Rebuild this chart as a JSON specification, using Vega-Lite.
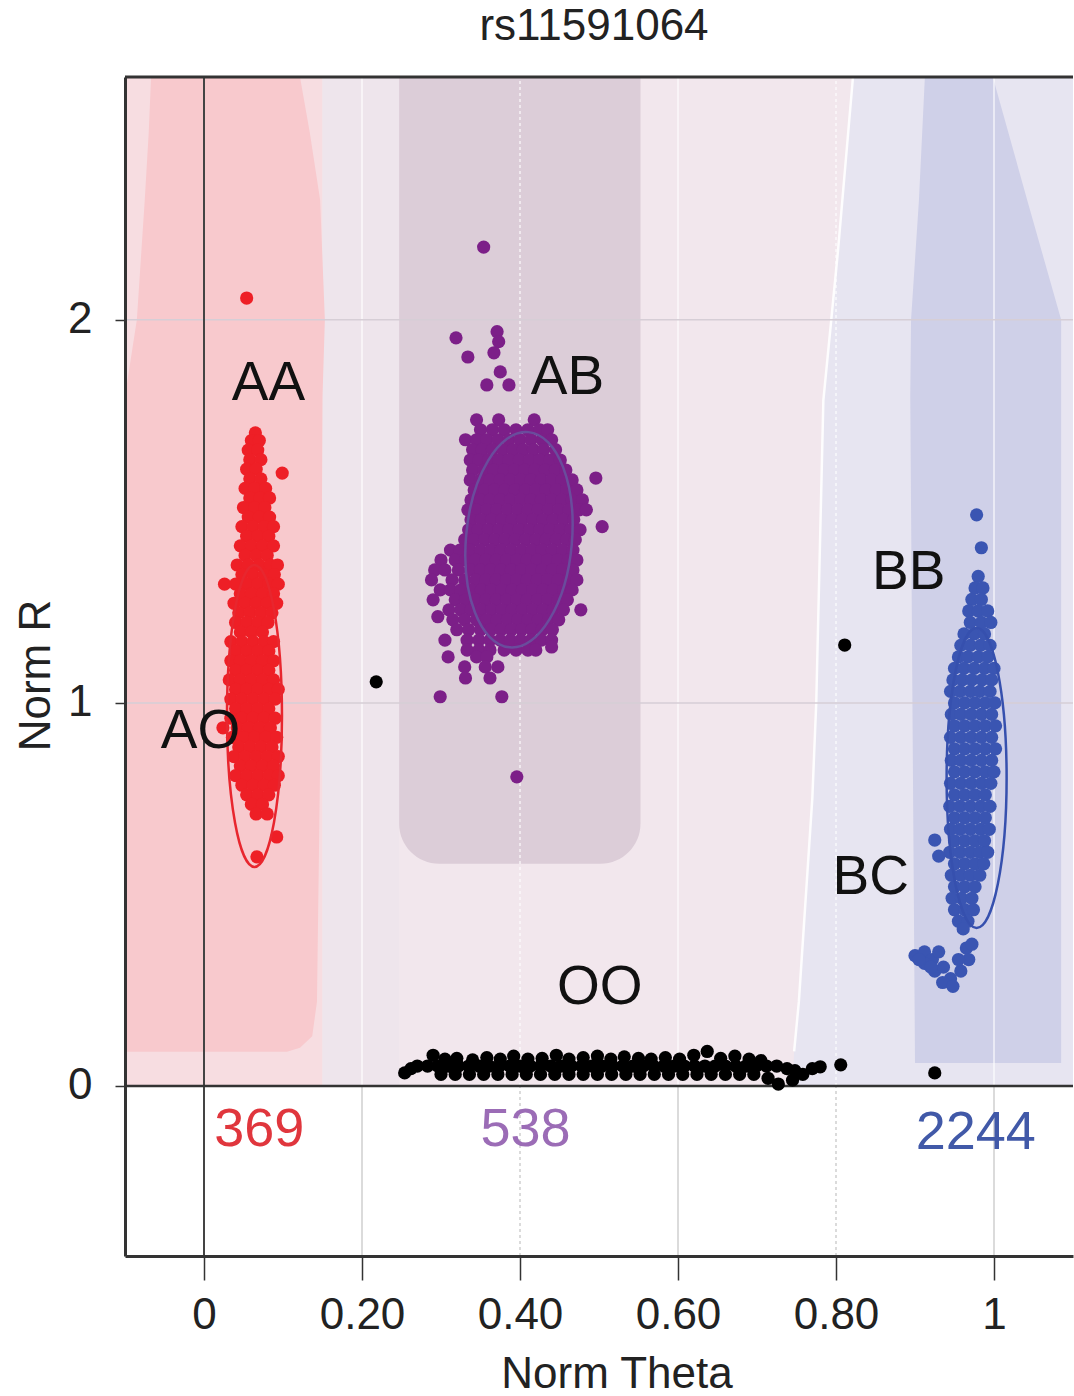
{
"$schema": "https://vega.github.io/schema/vega-lite/v6.json",
"width": 948, "height": 1179,
"autosize": {"type": "none"},
"padding": {"left": 125, "top": 77, "right": 1, "bottom": 140},
"background": "white",
"config": {"view": {"stroke": null}, "font": "Liberation Sans"},
"title": {"text": "rs11591064", "fontSize": 44, "font": "Liberation Sans", "fontWeight": "normal", "color": "#222", "anchor": "middle", "frame": "group", "dx": -5, "dy": 42, "offset": 30, "baseline": "alphabetic"},
"resolve": {"scale": {"color": "independent"}},
"datasets": {
"bg": [
{"z":"base","x1":-0.1,"x2":1.1,"y1":0,"y2":2.634},
{"z":"pinkL","x1":-0.1,"x2":0.15,"y1":0,"y2":2.634},
{"z":"lavL","x1":0.15,"x2":0.247,"y1":0,"y2":2.634},
{"z":"ab","x1":0.247,"x2":0.5525,"y1":0.58,"y2":2.634}
],
"zones": [
{"z":"pinkAA","r":0.089,"lo":-0.1,"hi":0.105},
{"z":"pinkAA","r":0.10,"lo":-0.1,"hi":0.1215},
{"z":"pinkAA","r":0.13,"lo":-0.1,"hi":0.137},
{"z":"pinkAA","r":0.22,"lo":-0.1,"hi":0.143},
{"z":"pinkAA","r":1.0,"lo":-0.1,"hi":0.148},
{"z":"pinkAA","r":1.8,"lo":-0.1,"hi":0.15},
{"z":"pinkAA","r":2.0,"lo":-0.085,"hi":0.153},
{"z":"pinkAA","r":2.313,"lo":-0.075,"hi":0.147},
{"z":"pinkAA","r":2.488,"lo":-0.07,"hi":0.134},
{"z":"pinkAA","r":2.634,"lo":-0.067,"hi":0.1215},
{"z":"lavR","r":0,"lo":0.745,"hi":1.1},
{"z":"lavR","r":0.09,"lo":0.747,"hi":1.1},
{"z":"lavR","r":0.22,"lo":0.753,"hi":1.1},
{"z":"lavR","r":0.75,"lo":0.77,"hi":1.1},
{"z":"lavR","r":1.0,"lo":0.775,"hi":1.1},
{"z":"lavR","r":1.79,"lo":0.784,"hi":1.1},
{"z":"lavR","r":2.0,"lo":0.794,"hi":1.1},
{"z":"lavR","r":2.18,"lo":0.8025,"hi":1.1},
{"z":"lavR","r":2.634,"lo":0.8215,"hi":1.1},
{"z":"blue","r":0.06,"lo":0.90,"hi":1.085},
{"z":"blue","r":1.8,"lo":0.894,"hi":1.085},
{"z":"blue","r":2.0,"lo":0.895,"hi":1.085},
{"z":"blue","r":2.313,"lo":0.905,"hi":1.042},
{"z":"blue","r":2.634,"lo":0.9125,"hi":0.9985}
],
"vgrid": [{"t":0.2},{"t":0.4},{"t":0.6},{"t":0.8},{"t":1.0}],
"hgrid": [{"r":1},{"r":2}],
"zero": [{"t":0,"r":0}],
"frame": [{"r":2.634}],
"ell": [{"g":"AA","t":0.0639,"r":0.966},{"g":"AB","t":0.3987,"r":1.426},{"g":"BB","t":0.978,"r":0.804}],
"lab": [
{"k":"AA","t":0.0816,"r":1.834},{"k":"AB","t":0.460,"r":1.851},{"k":"AO","t":-0.0044,"r":0.927},
{"k":"BB","t":0.892,"r":1.341},{"k":"BC","t":0.844,"r":0.546},{"k":"OO","t":0.501,"r":0.258}
],
"cnt": [
{"k":"369","c":"AA","t":0.070,"r":-0.115},{"k":"538","c":"AB","t":0.407,"r":-0.115},{"k":"2244","c":"BB","t":0.977,"r":-0.124}
],
"pts": [
{"g":"AA","t":0.054,"r":2.057},
{"g":"AA","t":0.065,"r":1.705},
{"g":"AA","t":0.060,"r":1.685},{"g":"AA","t":0.070,"r":1.685},
{"g":"AA","t":0.056,"r":1.66},{"g":"AA","t":0.068,"r":1.66},
{"g":"AA","t":0.058,"r":1.635},{"g":"AA","t":0.072,"r":1.635},
{"g":"AA","t":0.054,"r":1.61},{"g":"AA","t":0.066,"r":1.61},
{"g":"AA","t":0.099,"r":1.60},
{"g":"AA","t":0.058,"r":1.585},{"g":"AA","t":0.072,"r":1.585},
{"g":"AA","t":0.052,"r":1.56},{"g":"AA","t":0.064,"r":1.56},{"g":"AA","t":0.078,"r":1.56},
{"g":"AA","t":0.058,"r":1.535},{"g":"AA","t":0.071,"r":1.535},{"g":"AA","t":0.083,"r":1.535},
{"g":"AA","t":0.050,"r":1.51},{"g":"AA","t":0.064,"r":1.51},{"g":"AA","t":0.077,"r":1.51},
{"g":"AA","t":0.056,"r":1.485},{"g":"AA","t":0.070,"r":1.485},{"g":"AA","t":0.083,"r":1.485},
{"g":"AA","t":0.048,"r":1.46},{"g":"AA","t":0.062,"r":1.46},{"g":"AA","t":0.076,"r":1.46},{"g":"AA","t":0.088,"r":1.46},
{"g":"AA","t":0.054,"r":1.435},{"g":"AA","t":0.068,"r":1.435},{"g":"AA","t":0.082,"r":1.435},
{"g":"AA","t":0.046,"r":1.41},{"g":"AA","t":0.060,"r":1.41},{"g":"AA","t":0.074,"r":1.41},{"g":"AA","t":0.088,"r":1.41},
{"g":"AA","t":0.052,"r":1.385},{"g":"AA","t":0.066,"r":1.385},{"g":"AA","t":0.080,"r":1.385},
{"g":"AA","t":0.042,"r":1.36},{"g":"AA","t":0.056,"r":1.36},{"g":"AA","t":0.070,"r":1.36},{"g":"AA","t":0.084,"r":1.36},{"g":"AA","t":0.093,"r":1.36},
{"g":"AA","t":0.048,"r":1.335},{"g":"AA","t":0.062,"r":1.335},{"g":"AA","t":0.076,"r":1.335},{"g":"AA","t":0.089,"r":1.335},
{"g":"AA","t":0.026,"r":1.31},{"g":"AA","t":0.040,"r":1.31},{"g":"AA","t":0.054,"r":1.31},{"g":"AA","t":0.068,"r":1.31},{"g":"AA","t":0.082,"r":1.31},{"g":"AA","t":0.094,"r":1.31},
{"g":"AA","t":0.046,"r":1.285},{"g":"AA","t":0.060,"r":1.285},{"g":"AA","t":0.074,"r":1.285},{"g":"AA","t":0.088,"r":1.285},
{"g":"AA","t":0.038,"r":1.26},{"g":"AA","t":0.052,"r":1.26},{"g":"AA","t":0.066,"r":1.26},{"g":"AA","t":0.080,"r":1.26},{"g":"AA","t":0.092,"r":1.26},
{"g":"AA","t":0.044,"r":1.235},{"g":"AA","t":0.058,"r":1.235},{"g":"AA","t":0.072,"r":1.235},{"g":"AA","t":0.086,"r":1.235},
{"g":"AA","t":0.040,"r":1.21},{"g":"AA","t":0.054,"r":1.21},{"g":"AA","t":0.068,"r":1.21},{"g":"AA","t":0.081,"r":1.21},
{"g":"AA","t":0.046,"r":1.185},{"g":"AA","t":0.060,"r":1.185},{"g":"AA","t":0.074,"r":1.185},
{"g":"AA","t":0.034,"r":1.16},{"g":"AA","t":0.048,"r":1.16},{"g":"AA","t":0.062,"r":1.16},{"g":"AA","t":0.076,"r":1.16},{"g":"AA","t":0.088,"r":1.16},
{"g":"AA","t":0.040,"r":1.135},{"g":"AA","t":0.054,"r":1.135},{"g":"AA","t":0.068,"r":1.135},{"g":"AA","t":0.082,"r":1.135},
{"g":"AA","t":0.034,"r":1.11},{"g":"AA","t":0.046,"r":1.11},{"g":"AA","t":0.060,"r":1.11},{"g":"AA","t":0.074,"r":1.11},{"g":"AA","t":0.088,"r":1.11},
{"g":"AA","t":0.040,"r":1.085},{"g":"AA","t":0.054,"r":1.085},{"g":"AA","t":0.068,"r":1.085},{"g":"AA","t":0.082,"r":1.085},
{"g":"AA","t":0.032,"r":1.06},{"g":"AA","t":0.046,"r":1.06},{"g":"AA","t":0.060,"r":1.06},{"g":"AA","t":0.074,"r":1.06},{"g":"AA","t":0.088,"r":1.06},
{"g":"AA","t":0.040,"r":1.035},{"g":"AA","t":0.054,"r":1.035},{"g":"AA","t":0.068,"r":1.035},{"g":"AA","t":0.082,"r":1.035},{"g":"AA","t":0.094,"r":1.035},
{"g":"AA","t":0.034,"r":1.01},{"g":"AA","t":0.048,"r":1.01},{"g":"AA","t":0.062,"r":1.01},{"g":"AA","t":0.076,"r":1.01},{"g":"AA","t":0.090,"r":1.01},
{"g":"AA","t":0.040,"r":0.985},{"g":"AA","t":0.054,"r":0.985},{"g":"AA","t":0.068,"r":0.985},{"g":"AA","t":0.082,"r":0.985},
{"g":"AA","t":0.034,"r":0.96},{"g":"AA","t":0.048,"r":0.96},{"g":"AA","t":0.062,"r":0.96},{"g":"AA","t":0.076,"r":0.96},{"g":"AA","t":0.090,"r":0.96},
{"g":"AA","t":0.024,"r":0.935},{"g":"AA","t":0.042,"r":0.935},{"g":"AA","t":0.056,"r":0.935},{"g":"AA","t":0.070,"r":0.935},{"g":"AA","t":0.084,"r":0.935},
{"g":"AA","t":0.036,"r":0.91},{"g":"AA","t":0.050,"r":0.91},{"g":"AA","t":0.064,"r":0.91},{"g":"AA","t":0.078,"r":0.91},{"g":"AA","t":0.092,"r":0.91},
{"g":"AA","t":0.044,"r":0.885},{"g":"AA","t":0.058,"r":0.885},{"g":"AA","t":0.072,"r":0.885},{"g":"AA","t":0.086,"r":0.885},
{"g":"AA","t":0.038,"r":0.86},{"g":"AA","t":0.052,"r":0.86},{"g":"AA","t":0.066,"r":0.86},{"g":"AA","t":0.080,"r":0.86},{"g":"AA","t":0.094,"r":0.86},
{"g":"AA","t":0.046,"r":0.835},{"g":"AA","t":0.060,"r":0.835},{"g":"AA","t":0.074,"r":0.835},{"g":"AA","t":0.088,"r":0.835},
{"g":"AA","t":0.040,"r":0.81},{"g":"AA","t":0.054,"r":0.81},{"g":"AA","t":0.068,"r":0.81},{"g":"AA","t":0.082,"r":0.81},{"g":"AA","t":0.094,"r":0.81},
{"g":"AA","t":0.048,"r":0.785},{"g":"AA","t":0.062,"r":0.785},{"g":"AA","t":0.076,"r":0.785},{"g":"AA","t":0.089,"r":0.785},
{"g":"AA","t":0.054,"r":0.76},{"g":"AA","t":0.068,"r":0.76},{"g":"AA","t":0.082,"r":0.76},
{"g":"AA","t":0.060,"r":0.735},{"g":"AA","t":0.074,"r":0.735},
{"g":"AA","t":0.066,"r":0.71},{"g":"AA","t":0.080,"r":0.71},
{"g":"AA","t":0.092,"r":0.65},
{"g":"AA","t":0.067,"r":0.598},
{"g":"AB","t":0.354,"r":2.19},{"g":"AB","t":0.319,"r":1.953},{"g":"AB","t":0.334,"r":1.903},{"g":"AB","t":0.371,"r":1.969},{"g":"AB","t":0.373,"r":1.943},{"g":"AB","t":0.367,"r":1.914},{"g":"AB","t":0.375,"r":1.864},{"g":"AB","t":0.358,"r":1.830},{"g":"AB","t":0.386,"r":1.830},
{"g":"AB","t":0.345,"r":1.739},{"g":"AB","t":0.373,"r":1.739},{"g":"AB","t":0.418,"r":1.739},
{"g":"AB","t":0.350,"r":1.713},{"g":"AB","t":0.365,"r":1.713},{"g":"AB","t":0.380,"r":1.713},{"g":"AB","t":0.395,"r":1.713},{"g":"AB","t":0.410,"r":1.713},{"g":"AB","t":0.425,"r":1.713},{"g":"AB","t":0.435,"r":1.713},
{"g":"AB","t":0.331,"r":1.687},{"g":"AB","t":0.345,"r":1.687},{"g":"AB","t":0.358,"r":1.687},{"g":"AB","t":0.372,"r":1.687},{"g":"AB","t":0.386,"r":1.687},{"g":"AB","t":0.400,"r":1.687},{"g":"AB","t":0.414,"r":1.687},{"g":"AB","t":0.428,"r":1.687},{"g":"AB","t":0.440,"r":1.687},
{"g":"AB","t":0.340,"r":1.661},{"g":"AB","t":0.352,"r":1.661},{"g":"AB","t":0.365,"r":1.661},{"g":"AB","t":0.378,"r":1.661},{"g":"AB","t":0.391,"r":1.661},{"g":"AB","t":0.404,"r":1.661},{"g":"AB","t":0.417,"r":1.661},{"g":"AB","t":0.430,"r":1.661},{"g":"AB","t":0.445,"r":1.661},
{"g":"AB","t":0.337,"r":1.634},{"g":"AB","t":0.348,"r":1.634},{"g":"AB","t":0.360,"r":1.634},{"g":"AB","t":0.373,"r":1.634},{"g":"AB","t":0.386,"r":1.634},{"g":"AB","t":0.399,"r":1.634},{"g":"AB","t":0.412,"r":1.634},{"g":"AB","t":0.425,"r":1.634},{"g":"AB","t":0.438,"r":1.634},{"g":"AB","t":0.451,"r":1.634},
{"g":"AB","t":0.340,"r":1.608},{"g":"AB","t":0.354,"r":1.608},{"g":"AB","t":0.367,"r":1.608},{"g":"AB","t":0.380,"r":1.608},{"g":"AB","t":0.393,"r":1.608},{"g":"AB","t":0.406,"r":1.608},{"g":"AB","t":0.419,"r":1.608},{"g":"AB","t":0.432,"r":1.608},{"g":"AB","t":0.445,"r":1.608},{"g":"AB","t":0.458,"r":1.608},
{"g":"AB","t":0.496,"r":1.587},
{"g":"AB","t":0.337,"r":1.582},{"g":"AB","t":0.350,"r":1.582},{"g":"AB","t":0.362,"r":1.582},{"g":"AB","t":0.375,"r":1.582},{"g":"AB","t":0.388,"r":1.582},{"g":"AB","t":0.401,"r":1.582},{"g":"AB","t":0.414,"r":1.582},{"g":"AB","t":0.427,"r":1.582},{"g":"AB","t":0.440,"r":1.582},{"g":"AB","t":0.453,"r":1.582},{"g":"AB","t":0.466,"r":1.582},
{"g":"AB","t":0.342,"r":1.556},{"g":"AB","t":0.355,"r":1.556},{"g":"AB","t":0.368,"r":1.556},{"g":"AB","t":0.381,"r":1.556},{"g":"AB","t":0.394,"r":1.556},{"g":"AB","t":0.407,"r":1.556},{"g":"AB","t":0.420,"r":1.556},{"g":"AB","t":0.433,"r":1.556},{"g":"AB","t":0.446,"r":1.556},{"g":"AB","t":0.459,"r":1.556},{"g":"AB","t":0.472,"r":1.556},
{"g":"AB","t":0.338,"r":1.530},{"g":"AB","t":0.350,"r":1.530},{"g":"AB","t":0.362,"r":1.530},{"g":"AB","t":0.375,"r":1.530},{"g":"AB","t":0.388,"r":1.530},{"g":"AB","t":0.401,"r":1.530},{"g":"AB","t":0.414,"r":1.530},{"g":"AB","t":0.427,"r":1.530},{"g":"AB","t":0.440,"r":1.530},{"g":"AB","t":0.453,"r":1.530},{"g":"AB","t":0.466,"r":1.530},{"g":"AB","t":0.479,"r":1.530},
{"g":"AB","t":0.334,"r":1.504},{"g":"AB","t":0.345,"r":1.504},{"g":"AB","t":0.358,"r":1.504},{"g":"AB","t":0.371,"r":1.504},{"g":"AB","t":0.384,"r":1.504},{"g":"AB","t":0.397,"r":1.504},{"g":"AB","t":0.410,"r":1.504},{"g":"AB","t":0.423,"r":1.504},{"g":"AB","t":0.436,"r":1.504},{"g":"AB","t":0.449,"r":1.504},{"g":"AB","t":0.462,"r":1.504},{"g":"AB","t":0.475,"r":1.504},{"g":"AB","t":0.484,"r":1.504},
{"g":"AB","t":0.338,"r":1.478},{"g":"AB","t":0.351,"r":1.478},{"g":"AB","t":0.364,"r":1.478},{"g":"AB","t":0.377,"r":1.478},{"g":"AB","t":0.390,"r":1.478},{"g":"AB","t":0.403,"r":1.478},{"g":"AB","t":0.416,"r":1.478},{"g":"AB","t":0.429,"r":1.478},{"g":"AB","t":0.442,"r":1.478},{"g":"AB","t":0.455,"r":1.478},{"g":"AB","t":0.468,"r":1.478},
{"g":"AB","t":0.504,"r":1.460},
{"g":"AB","t":0.335,"r":1.452},{"g":"AB","t":0.347,"r":1.452},{"g":"AB","t":0.360,"r":1.452},{"g":"AB","t":0.373,"r":1.452},{"g":"AB","t":0.386,"r":1.452},{"g":"AB","t":0.399,"r":1.452},{"g":"AB","t":0.412,"r":1.452},{"g":"AB","t":0.425,"r":1.452},{"g":"AB","t":0.438,"r":1.452},{"g":"AB","t":0.451,"r":1.452},{"g":"AB","t":0.464,"r":1.452},{"g":"AB","t":0.476,"r":1.452},
{"g":"AB","t":0.330,"r":1.426},{"g":"AB","t":0.342,"r":1.426},{"g":"AB","t":0.355,"r":1.426},{"g":"AB","t":0.368,"r":1.426},{"g":"AB","t":0.381,"r":1.426},{"g":"AB","t":0.394,"r":1.426},{"g":"AB","t":0.407,"r":1.426},{"g":"AB","t":0.420,"r":1.426},{"g":"AB","t":0.433,"r":1.426},{"g":"AB","t":0.446,"r":1.426},{"g":"AB","t":0.459,"r":1.426},{"g":"AB","t":0.470,"r":1.426},
{"g":"AB","t":0.312,"r":1.399},{"g":"AB","t":0.324,"r":1.399},{"g":"AB","t":0.337,"r":1.399},{"g":"AB","t":0.350,"r":1.399},{"g":"AB","t":0.363,"r":1.399},{"g":"AB","t":0.376,"r":1.399},{"g":"AB","t":0.389,"r":1.399},{"g":"AB","t":0.402,"r":1.399},{"g":"AB","t":0.415,"r":1.399},{"g":"AB","t":0.428,"r":1.399},{"g":"AB","t":0.441,"r":1.399},{"g":"AB","t":0.454,"r":1.399},{"g":"AB","t":0.467,"r":1.399},
{"g":"AB","t":0.300,"r":1.373},{"g":"AB","t":0.318,"r":1.373},{"g":"AB","t":0.331,"r":1.373},{"g":"AB","t":0.344,"r":1.373},{"g":"AB","t":0.357,"r":1.373},{"g":"AB","t":0.370,"r":1.373},{"g":"AB","t":0.383,"r":1.373},{"g":"AB","t":0.396,"r":1.373},{"g":"AB","t":0.409,"r":1.373},{"g":"AB","t":0.422,"r":1.373},{"g":"AB","t":0.435,"r":1.373},{"g":"AB","t":0.448,"r":1.373},{"g":"AB","t":0.461,"r":1.373},{"g":"AB","t":0.472,"r":1.373},
{"g":"AB","t":0.292,"r":1.347},{"g":"AB","t":0.305,"r":1.347},{"g":"AB","t":0.322,"r":1.347},{"g":"AB","t":0.337,"r":1.347},{"g":"AB","t":0.350,"r":1.347},{"g":"AB","t":0.363,"r":1.347},{"g":"AB","t":0.376,"r":1.347},{"g":"AB","t":0.389,"r":1.347},{"g":"AB","t":0.402,"r":1.347},{"g":"AB","t":0.415,"r":1.347},{"g":"AB","t":0.428,"r":1.347},{"g":"AB","t":0.441,"r":1.347},{"g":"AB","t":0.454,"r":1.347},{"g":"AB","t":0.467,"r":1.347},
{"g":"AB","t":0.288,"r":1.321},{"g":"AB","t":0.314,"r":1.321},{"g":"AB","t":0.330,"r":1.321},{"g":"AB","t":0.344,"r":1.321},{"g":"AB","t":0.357,"r":1.321},{"g":"AB","t":0.370,"r":1.321},{"g":"AB","t":0.383,"r":1.321},{"g":"AB","t":0.396,"r":1.321},{"g":"AB","t":0.409,"r":1.321},{"g":"AB","t":0.422,"r":1.321},{"g":"AB","t":0.435,"r":1.321},{"g":"AB","t":0.448,"r":1.321},{"g":"AB","t":0.461,"r":1.321},{"g":"AB","t":0.472,"r":1.321},
{"g":"AB","t":0.299,"r":1.295},{"g":"AB","t":0.312,"r":1.295},{"g":"AB","t":0.325,"r":1.295},{"g":"AB","t":0.338,"r":1.295},{"g":"AB","t":0.351,"r":1.295},{"g":"AB","t":0.364,"r":1.295},{"g":"AB","t":0.377,"r":1.295},{"g":"AB","t":0.390,"r":1.295},{"g":"AB","t":0.403,"r":1.295},{"g":"AB","t":0.416,"r":1.295},{"g":"AB","t":0.429,"r":1.295},{"g":"AB","t":0.442,"r":1.295},{"g":"AB","t":0.455,"r":1.295},{"g":"AB","t":0.466,"r":1.295},
{"g":"AB","t":0.290,"r":1.269},{"g":"AB","t":0.318,"r":1.269},{"g":"AB","t":0.331,"r":1.269},{"g":"AB","t":0.344,"r":1.269},{"g":"AB","t":0.357,"r":1.269},{"g":"AB","t":0.370,"r":1.269},{"g":"AB","t":0.383,"r":1.269},{"g":"AB","t":0.396,"r":1.269},{"g":"AB","t":0.409,"r":1.269},{"g":"AB","t":0.422,"r":1.269},{"g":"AB","t":0.435,"r":1.269},{"g":"AB","t":0.448,"r":1.269},{"g":"AB","t":0.460,"r":1.269},
{"g":"AB","t":0.310,"r":1.243},{"g":"AB","t":0.325,"r":1.243},{"g":"AB","t":0.338,"r":1.243},{"g":"AB","t":0.351,"r":1.243},{"g":"AB","t":0.364,"r":1.243},{"g":"AB","t":0.377,"r":1.243},{"g":"AB","t":0.390,"r":1.243},{"g":"AB","t":0.403,"r":1.243},{"g":"AB","t":0.416,"r":1.243},{"g":"AB","t":0.429,"r":1.243},{"g":"AB","t":0.442,"r":1.243},{"g":"AB","t":0.455,"r":1.243},{"g":"AB","t":0.477,"r":1.243},
{"g":"AB","t":0.296,"r":1.225},{"g":"AB","t":0.315,"r":1.217},{"g":"AB","t":0.330,"r":1.217},{"g":"AB","t":0.345,"r":1.217},{"g":"AB","t":0.358,"r":1.217},{"g":"AB","t":0.371,"r":1.217},{"g":"AB","t":0.384,"r":1.217},{"g":"AB","t":0.397,"r":1.217},{"g":"AB","t":0.410,"r":1.217},{"g":"AB","t":0.423,"r":1.217},{"g":"AB","t":0.436,"r":1.217},{"g":"AB","t":0.449,"r":1.217},
{"g":"AB","t":0.320,"r":1.191},{"g":"AB","t":0.335,"r":1.191},{"g":"AB","t":0.350,"r":1.191},{"g":"AB","t":0.363,"r":1.191},{"g":"AB","t":0.376,"r":1.191},{"g":"AB","t":0.389,"r":1.191},{"g":"AB","t":0.402,"r":1.191},{"g":"AB","t":0.415,"r":1.191},{"g":"AB","t":0.428,"r":1.191},{"g":"AB","t":0.441,"r":1.191},
{"g":"AB","t":0.305,"r":1.164},{"g":"AB","t":0.333,"r":1.164},{"g":"AB","t":0.348,"r":1.164},{"g":"AB","t":0.362,"r":1.164},{"g":"AB","t":0.375,"r":1.164},{"g":"AB","t":0.388,"r":1.164},{"g":"AB","t":0.401,"r":1.164},{"g":"AB","t":0.414,"r":1.164},{"g":"AB","t":0.427,"r":1.164},{"g":"AB","t":0.440,"r":1.164},
{"g":"AB","t":0.440,"r":1.146},
{"g":"AB","t":0.333,"r":1.138},{"g":"AB","t":0.348,"r":1.138},{"g":"AB","t":0.362,"r":1.138},{"g":"AB","t":0.380,"r":1.138},{"g":"AB","t":0.395,"r":1.138},{"g":"AB","t":0.410,"r":1.138},{"g":"AB","t":0.420,"r":1.138},
{"g":"AB","t":0.309,"r":1.120},{"g":"AB","t":0.345,"r":1.120},{"g":"AB","t":0.358,"r":1.120},
{"g":"AB","t":0.330,"r":1.094},{"g":"AB","t":0.356,"r":1.094},{"g":"AB","t":0.372,"r":1.094},
{"g":"AB","t":0.331,"r":1.065},{"g":"AB","t":0.362,"r":1.065},
{"g":"AB","t":0.299,"r":1.016},{"g":"AB","t":0.377,"r":1.016},
{"g":"AB","t":0.396,"r":0.807},
{"g":"BB","t":0.978,"r":1.491},{"g":"BB","t":0.984,"r":1.405},
{"g":"BB","t":0.980,"r":1.33},
{"g":"BB","t":0.976,"r":1.30},{"g":"BB","t":0.986,"r":1.30},
{"g":"BB","t":0.972,"r":1.27},{"g":"BB","t":0.984,"r":1.27},
{"g":"BB","t":0.968,"r":1.24},{"g":"BB","t":0.980,"r":1.24},{"g":"BB","t":0.992,"r":1.24},
{"g":"BB","t":0.970,"r":1.21},{"g":"BB","t":0.984,"r":1.21},{"g":"BB","t":0.996,"r":1.21},
{"g":"BB","t":0.962,"r":1.18},{"g":"BB","t":0.975,"r":1.18},{"g":"BB","t":0.988,"r":1.18},
{"g":"BB","t":0.958,"r":1.15},{"g":"BB","t":0.970,"r":1.15},{"g":"BB","t":0.983,"r":1.15},{"g":"BB","t":0.995,"r":1.15},
{"g":"BB","t":0.955,"r":1.12},{"g":"BB","t":0.967,"r":1.12},{"g":"BB","t":0.980,"r":1.12},{"g":"BB","t":0.992,"r":1.12},
{"g":"BB","t":0.950,"r":1.09},{"g":"BB","t":0.962,"r":1.09},{"g":"BB","t":0.975,"r":1.09},{"g":"BB","t":0.988,"r":1.09},{"g":"BB","t":1.000,"r":1.09},
{"g":"BB","t":0.948,"r":1.06},{"g":"BB","t":0.960,"r":1.06},{"g":"BB","t":0.972,"r":1.06},{"g":"BB","t":0.985,"r":1.06},{"g":"BB","t":0.997,"r":1.06},
{"g":"BB","t":0.945,"r":1.03},{"g":"BB","t":0.957,"r":1.03},{"g":"BB","t":0.970,"r":1.03},{"g":"BB","t":0.982,"r":1.03},{"g":"BB","t":0.995,"r":1.03},
{"g":"BB","t":0.950,"r":1.00},{"g":"BB","t":0.963,"r":1.00},{"g":"BB","t":0.976,"r":1.00},{"g":"BB","t":0.989,"r":1.00},{"g":"BB","t":1.001,"r":1.00},
{"g":"BB","t":0.946,"r":0.97},{"g":"BB","t":0.958,"r":0.97},{"g":"BB","t":0.971,"r":0.97},{"g":"BB","t":0.984,"r":0.97},{"g":"BB","t":0.997,"r":0.97},
{"g":"BB","t":0.950,"r":0.94},{"g":"BB","t":0.963,"r":0.94},{"g":"BB","t":0.976,"r":0.94},{"g":"BB","t":0.989,"r":0.94},{"g":"BB","t":1.002,"r":0.94},
{"g":"BB","t":0.945,"r":0.91},{"g":"BB","t":0.958,"r":0.91},{"g":"BB","t":0.971,"r":0.91},{"g":"BB","t":0.984,"r":0.91},{"g":"BB","t":0.997,"r":0.91},
{"g":"BB","t":0.950,"r":0.88},{"g":"BB","t":0.963,"r":0.88},{"g":"BB","t":0.976,"r":0.88},{"g":"BB","t":0.989,"r":0.88},{"g":"BB","t":1.002,"r":0.88},
{"g":"BB","t":0.946,"r":0.85},{"g":"BB","t":0.958,"r":0.85},{"g":"BB","t":0.971,"r":0.85},{"g":"BB","t":0.984,"r":0.85},{"g":"BB","t":0.997,"r":0.85},
{"g":"BB","t":0.950,"r":0.82},{"g":"BB","t":0.963,"r":0.82},{"g":"BB","t":0.976,"r":0.82},{"g":"BB","t":0.989,"r":0.82},{"g":"BB","t":1.000,"r":0.82},
{"g":"BB","t":0.945,"r":0.79},{"g":"BB","t":0.958,"r":0.79},{"g":"BB","t":0.971,"r":0.79},{"g":"BB","t":0.984,"r":0.79},{"g":"BB","t":0.996,"r":0.79},
{"g":"BB","t":0.950,"r":0.76},{"g":"BB","t":0.963,"r":0.76},{"g":"BB","t":0.976,"r":0.76},{"g":"BB","t":0.989,"r":0.76},
{"g":"BB","t":0.944,"r":0.73},{"g":"BB","t":0.957,"r":0.73},{"g":"BB","t":0.970,"r":0.73},{"g":"BB","t":0.983,"r":0.73},{"g":"BB","t":0.995,"r":0.73},
{"g":"BB","t":0.950,"r":0.70},{"g":"BB","t":0.963,"r":0.70},{"g":"BB","t":0.976,"r":0.70},{"g":"BB","t":0.989,"r":0.70},
{"g":"BB","t":0.945,"r":0.67},{"g":"BB","t":0.957,"r":0.67},{"g":"BB","t":0.970,"r":0.67},{"g":"BB","t":0.983,"r":0.67},{"g":"BB","t":0.994,"r":0.67},
{"g":"BB","t":0.950,"r":0.64},{"g":"BB","t":0.963,"r":0.64},{"g":"BB","t":0.976,"r":0.64},{"g":"BB","t":0.988,"r":0.64},
{"g":"BB","t":0.944,"r":0.61},{"g":"BB","t":0.957,"r":0.61},{"g":"BB","t":0.970,"r":0.61},{"g":"BB","t":0.982,"r":0.61},{"g":"BB","t":0.992,"r":0.61},
{"g":"BB","t":0.950,"r":0.58},{"g":"BB","t":0.963,"r":0.58},{"g":"BB","t":0.976,"r":0.58},{"g":"BB","t":0.987,"r":0.58},
{"g":"BB","t":0.946,"r":0.55},{"g":"BB","t":0.958,"r":0.55},{"g":"BB","t":0.970,"r":0.55},{"g":"BB","t":0.982,"r":0.55},
{"g":"BB","t":0.950,"r":0.52},{"g":"BB","t":0.963,"r":0.52},{"g":"BB","t":0.976,"r":0.52},
{"g":"BB","t":0.947,"r":0.49},{"g":"BB","t":0.959,"r":0.49},{"g":"BB","t":0.972,"r":0.49},
{"g":"BB","t":0.950,"r":0.46},{"g":"BB","t":0.963,"r":0.46},{"g":"BB","t":0.974,"r":0.46},
{"g":"BB","t":0.955,"r":0.43},{"g":"BB","t":0.967,"r":0.43},
{"g":"BB","t":0.961,"r":0.41},
{"g":"BB","t":0.925,"r":0.642},{"g":"BB","t":0.930,"r":0.60},
{"g":"BB","t":0.900,"r":0.34},{"g":"BB","t":0.912,"r":0.35},{"g":"BB","t":0.922,"r":0.33},{"g":"BB","t":0.930,"r":0.35},{"g":"BB","t":0.912,"r":0.32},{"g":"BB","t":0.925,"r":0.30},{"g":"BB","t":0.936,"r":0.31},{"g":"BB","t":0.945,"r":0.28},{"g":"BB","t":0.935,"r":0.27},{"g":"BB","t":0.948,"r":0.26},{"g":"BB","t":0.920,"r":0.31},{"g":"BB","t":0.905,"r":0.33},{"g":"BB","t":0.958,"r":0.30},{"g":"BB","t":0.965,"r":0.36},{"g":"BB","t":0.972,"r":0.37},{"g":"BB","t":0.968,"r":0.33},{"g":"BB","t":0.955,"r":0.33},
{"g":"OO","t":0.218,"r":1.055},{"g":"OO","t":0.811,"r":1.151},{"g":"OO","t":0.806,"r":0.055},{"g":"OO","t":0.925,"r":0.034},
{"g":"OO","t":0.254,"r":0.034},{"g":"OO","t":0.262,"r":0.045},
{"g":"OO","t":0.270,"r":0.052},{"g":"OO","t":0.283,"r":0.052},{"g":"OO","t":0.296,"r":0.052},{"g":"OO","t":0.309,"r":0.052},{"g":"OO","t":0.322,"r":0.052},{"g":"OO","t":0.335,"r":0.052},{"g":"OO","t":0.348,"r":0.052},{"g":"OO","t":0.361,"r":0.052},{"g":"OO","t":0.374,"r":0.052},{"g":"OO","t":0.387,"r":0.052},{"g":"OO","t":0.400,"r":0.052},{"g":"OO","t":0.413,"r":0.052},{"g":"OO","t":0.426,"r":0.052},{"g":"OO","t":0.439,"r":0.052},{"g":"OO","t":0.452,"r":0.052},{"g":"OO","t":0.465,"r":0.052},{"g":"OO","t":0.478,"r":0.052},{"g":"OO","t":0.491,"r":0.052},{"g":"OO","t":0.504,"r":0.052},{"g":"OO","t":0.517,"r":0.052},{"g":"OO","t":0.530,"r":0.052},{"g":"OO","t":0.543,"r":0.052},{"g":"OO","t":0.556,"r":0.052},{"g":"OO","t":0.569,"r":0.052},{"g":"OO","t":0.582,"r":0.052},{"g":"OO","t":0.595,"r":0.052},{"g":"OO","t":0.608,"r":0.052},{"g":"OO","t":0.621,"r":0.052},{"g":"OO","t":0.634,"r":0.052},{"g":"OO","t":0.647,"r":0.052},{"g":"OO","t":0.660,"r":0.052},{"g":"OO","t":0.673,"r":0.052},{"g":"OO","t":0.686,"r":0.052},{"g":"OO","t":0.699,"r":0.052},{"g":"OO","t":0.712,"r":0.052},{"g":"OO","t":0.725,"r":0.052},{"g":"OO","t":0.738,"r":0.045},
{"g":"OO","t":0.290,"r":0.08},{"g":"OO","t":0.305,"r":0.07},{"g":"OO","t":0.320,"r":0.072},{"g":"OO","t":0.340,"r":0.068},{"g":"OO","t":0.358,"r":0.074},{"g":"OO","t":0.375,"r":0.07},{"g":"OO","t":0.392,"r":0.078},{"g":"OO","t":0.410,"r":0.07},{"g":"OO","t":0.428,"r":0.072},{"g":"OO","t":0.446,"r":0.08},{"g":"OO","t":0.462,"r":0.07},{"g":"OO","t":0.480,"r":0.074},{"g":"OO","t":0.498,"r":0.078},{"g":"OO","t":0.515,"r":0.07},{"g":"OO","t":0.532,"r":0.076},{"g":"OO","t":0.550,"r":0.072},{"g":"OO","t":0.566,"r":0.07},{"g":"OO","t":0.584,"r":0.074},{"g":"OO","t":0.602,"r":0.07},{"g":"OO","t":0.620,"r":0.08},{"g":"OO","t":0.637,"r":0.09},{"g":"OO","t":0.654,"r":0.072},{"g":"OO","t":0.672,"r":0.078},{"g":"OO","t":0.690,"r":0.07},{"g":"OO","t":0.705,"r":0.066},
{"g":"OO","t":0.300,"r":0.03},{"g":"OO","t":0.318,"r":0.03},{"g":"OO","t":0.336,"r":0.03},{"g":"OO","t":0.354,"r":0.03},{"g":"OO","t":0.372,"r":0.03},{"g":"OO","t":0.390,"r":0.03},{"g":"OO","t":0.408,"r":0.03},{"g":"OO","t":0.426,"r":0.03},{"g":"OO","t":0.444,"r":0.03},{"g":"OO","t":0.462,"r":0.03},{"g":"OO","t":0.480,"r":0.03},{"g":"OO","t":0.498,"r":0.03},{"g":"OO","t":0.516,"r":0.03},{"g":"OO","t":0.534,"r":0.03},{"g":"OO","t":0.552,"r":0.03},{"g":"OO","t":0.570,"r":0.03},{"g":"OO","t":0.588,"r":0.03},{"g":"OO","t":0.606,"r":0.03},{"g":"OO","t":0.624,"r":0.03},{"g":"OO","t":0.642,"r":0.03},{"g":"OO","t":0.660,"r":0.03},{"g":"OO","t":0.678,"r":0.03},{"g":"OO","t":0.696,"r":0.03},{"g":"OO","t":0.714,"r":0.02},{"g":"OO","t":0.727,"r":0.005},
{"g":"OO","t":0.748,"r":0.04},{"g":"OO","t":0.758,"r":0.03},{"g":"OO","t":0.770,"r":0.045},{"g":"OO","t":0.780,"r":0.05},{"g":"OO","t":0.745,"r":0.015}
]
},
"layer": [
{"data":{"name":"bg"},"transform":[{"filter":"datum.z=='base'"}],
 "mark":{"type":"rect","fill":"#f2e7ed","stroke":null},
 "encoding":{
  "x":{"field":"x1","type":"quantitative","scale":{"domain":[-0.1,1.1],"nice":false,"zero":false},
   "axis":{"title":"Norm Theta","values":[0,0.2,0.4,0.6,0.8,1],"labelExpr":"datum.value==0?'0':datum.value==1?'1':format(datum.value,'.2f')","grid":false,"domainColor":"#333","domainWidth":3,"tickColor":"#333","tickWidth":1.5,"tickSize":24,"labelFontSize":44,"labelFont":"Liberation Sans","labelColor":"#222","labelBaseline":"alphabetic","labelPadding":48,"labelFlush":false,"labelOverlap":false,"titleFontSize":44,"titleFont":"Liberation Sans","titleFontWeight":"normal","titleColor":"#222","titleX":491.5,"titleY":131,"titleBaseline":"alphabetic","titleAlign":"center","zindex":1}},
  "x2":{"field":"x2"},
  "y":{"field":"y1","type":"quantitative","scale":{"domain":[-0.444,2.634],"nice":false,"zero":false},
   "axis":{"title":"Norm R","values":[0,1,2],"format":"d","grid":false,"domainColor":"#333","domainWidth":3,"tickColor":"#333","tickWidth":1.5,"tickSize":10,"labelFontSize":44,"labelFont":"Liberation Sans","labelPadding":23,"labelBaseline":"middle","labelColor":"#222","labelFlush":false,"titleFontSize":44,"titleFont":"Liberation Sans","titleFontWeight":"normal","titleColor":"#222","titleAngle":270,"titleAlign":"center","titleBaseline":"alphabetic","titleX":-76,"titleY":598,"zindex":1}},
  "y2":{"field":"y2"}}},
{"data":{"name":"bg"},"transform":[{"filter":"datum.z=='pinkL'"}],
 "mark":{"type":"rect","fill":"#f7dde1","stroke":null},
 "encoding":{"x":{"field":"x1","type":"quantitative"},"x2":{"field":"x2"},"y":{"field":"y1","type":"quantitative"},"y2":{"field":"y2"}}},
{"data":{"name":"bg"},"transform":[{"filter":"datum.z=='lavL'"}],
 "mark":{"type":"rect","fill":"#eee5ec","stroke":null},
 "encoding":{"x":{"field":"x1","type":"quantitative"},"x2":{"field":"x2"},"y":{"field":"y1","type":"quantitative"},"y2":{"field":"y2"}}},
{"data":{"name":"zones"},"transform":[{"filter":"datum.z=='lavR'"}],
 "mark":{"type":"area","orient":"horizontal","fill":"#e7e5f1","opacity":1},
 "encoding":{"y":{"field":"r","type":"quantitative"},"x":{"field":"lo","type":"quantitative"},"x2":{"field":"hi"}}},
{"data":{"name":"zones"},"transform":[{"filter":"datum.z=='lavR' && datum.r>=0.09"}],
 "mark":{"type":"line","color":"#ffffff","strokeWidth":2.5,"opacity":0.9},
 "encoding":{"y":{"field":"r","type":"quantitative"},"x":{"field":"lo","type":"quantitative"},"order":{"field":"r","type":"quantitative"}}},
{"data":{"name":"zones"},"transform":[{"filter":"datum.z=='blue'"}],
 "mark":{"type":"area","orient":"horizontal","fill":"#cfd0e8","opacity":1},
 "encoding":{"y":{"field":"r","type":"quantitative"},"x":{"field":"lo","type":"quantitative"},"x2":{"field":"hi"}}},
{"data":{"name":"zones"},"transform":[{"filter":"datum.z=='pinkAA'"}],
 "mark":{"type":"area","orient":"horizontal","fill":"#f8c9cd","opacity":1},
 "encoding":{"y":{"field":"r","type":"quantitative"},"x":{"field":"lo","type":"quantitative"},"x2":{"field":"hi"}}},
{"data":{"name":"bg"},"transform":[{"filter":"datum.z=='ab'"}],
 "mark":{"type":"rect","fill":"#dccdd8","stroke":null,"cornerRadiusBottomLeft":40,"cornerRadiusBottomRight":40},
 "encoding":{"x":{"field":"x1","type":"quantitative"},"x2":{"field":"x2"},"y":{"field":"y1","type":"quantitative"},"y2":{"field":"y2"}}},
{"data":{"name":"vgrid"},
 "mark":{"type":"rule","color":"#ffffff","strokeWidth":1.5,"opacity":0.75},
 "encoding":{"x":{"field":"t","type":"quantitative"},"y":{"datum":0,"type":"quantitative"},"y2":{"datum":2.634},
  "strokeDash":{"condition":{"test":"datum.t==0.4||datum.t==0.8","value":[3,3]},"value":[1,0]}}},
{"data":{"name":"vgrid"},
 "mark":{"type":"rule","color":"#c4c4c4","strokeWidth":1.2},
 "encoding":{"x":{"field":"t","type":"quantitative"},"y":{"datum":-0.444,"type":"quantitative"},"y2":{"datum":0},
  "strokeDash":{"condition":{"test":"datum.t==0.4||datum.t==0.8","value":[3,3]},"value":[1,0]}}},
{"data":{"name":"hgrid"},
 "mark":{"type":"rule","color":"#d6ced6","strokeWidth":1.5},
 "encoding":{"y":{"field":"r","type":"quantitative"}}},
{"data":{"name":"zero"},
 "mark":{"type":"rule","color":"#444","strokeWidth":2},
 "encoding":{"x":{"field":"t","type":"quantitative"}}},
{"data":{"name":"zero"},
 "mark":{"type":"rule","color":"#333","strokeWidth":2.5},
 "encoding":{"y":{"field":"r","type":"quantitative"}}},
{"data":{"name":"frame"},
 "mark":{"type":"rule","color":"#333","strokeWidth":3},
 "encoding":{"y":{"field":"r","type":"quantitative"}}},
{"data":{"name":"pts"},
 "mark":{"type":"circle","size":175,"opacity":1},
 "encoding":{"x":{"field":"t","type":"quantitative"},"y":{"field":"r","type":"quantitative"},
  "color":{"field":"g","type":"nominal","legend":null,"scale":{"domain":["AA","AB","BB","OO"],"range":["#ee1f26","#7c1f88","#3a55b2","#000000"]}}}},
{"data":{"name":"ell"},"transform":[{"filter":"datum.g=='AA'"}],
 "mark":{"type":"point","filled":false,"opacity":1,"stroke":"#e8262e","strokeWidth":2.5,"size":91204,"shape":"M0,-1C0.1006,-1 0.1821,-0.5523 0.1821,0C0.1821,0.5523 0.1006,1 0,1C-0.1006,1 -0.1821,0.5523 -0.1821,0C-0.1821,-0.5523 -0.1006,-1 0,-1Z"},
 "encoding":{"x":{"field":"t","type":"quantitative"},"y":{"field":"r","type":"quantitative"}}},
{"data":{"name":"ell"},"transform":[{"filter":"datum.g=='AB'"}],
 "mark":{"type":"point","filled":false,"opacity":1,"stroke":"#6a4c9c","strokeWidth":2.5,"size":46656,"angle":5,"shape":"M0,-1C0.271,-1 0.4907,-0.5523 0.4907,0C0.4907,0.5523 0.271,1 0,1C-0.271,1 -0.4907,0.5523 -0.4907,0C-0.4907,-0.5523 -0.271,-1 0,-1Z"},
 "encoding":{"x":{"field":"t","type":"quantitative"},"y":{"field":"r","type":"quantitative"}}},
{"data":{"name":"ell"},"transform":[{"filter":"datum.g=='BB'"}],
 "mark":{"type":"point","filled":false,"opacity":1,"stroke":"#3650ae","strokeWidth":2.5,"size":90000,"shape":"M0,-1C0.1105,-1 0.2,-0.5523 0.2,0C0.2,0.5523 0.1105,1 0,1C-0.1105,1 -0.2,0.5523 -0.2,0C-0.2,-0.5523 -0.1105,-1 0,-1Z"},
 "encoding":{"x":{"field":"t","type":"quantitative"},"y":{"field":"r","type":"quantitative"}}},
{"data":{"name":"lab"},
 "mark":{"type":"text","fontSize":55,"font":"Liberation Sans","color":"#111","align":"center","baseline":"middle"},
 "encoding":{"x":{"field":"t","type":"quantitative"},"y":{"field":"r","type":"quantitative"},"text":{"field":"k"}}},
{"data":{"name":"cnt"},
 "mark":{"type":"text","fontSize":54,"font":"Liberation Sans","align":"center","baseline":"middle"},
 "encoding":{"x":{"field":"t","type":"quantitative"},"y":{"field":"r","type":"quantitative"},"text":{"field":"k"},
  "color":{"field":"c","type":"nominal","legend":null,"scale":{"domain":["AA","AB","BB"],"range":["#e0363d","#9b6cb6","#4159a8"]}}}}
]
}
